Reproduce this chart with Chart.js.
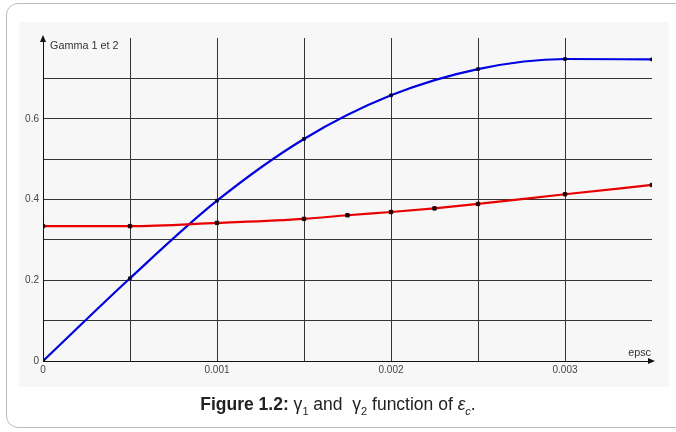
<!DOCTYPE html>
<html>
<head>
<meta charset="utf-8">
<script src="https://cdn.jsdelivr.net/npm/chart.js@4.4.1/dist/chart.umd.min.js"></script>
<style>
    body { margin: 0; background: #fff; width: 676px; height: 432px; overflow: hidden; position: relative; font-family: "Liberation Sans", Arial, sans-serif; }
    .frame { position: absolute; left: 6px; top: 3px; width: 720px; height: 423px; border: 1.5px solid #bbb; border-radius: 12px; }
    .panel { position: absolute; left: 19px; top: 22px; width: 650px; height: 365px; background: #f7f7f7; }
    #chart { position: absolute; left: 0; top: 0; }
    .caption { position: absolute; left: 0; width: 676px; top: 394px; text-align: center; font-size: 17.5px; color: #222; }
    .caption sub { font-size: 11px; }
</style>
</head>
<body>
<div class="frame"></div>
<div class="panel"></div>
<canvas id="chart" width="676" height="432"></canvas>
<div class="caption"><b>Figure 1.2:</b> γ<sub>1</sub> and &nbsp;γ<sub>2</sub> function of <i>ε<sub>c</sub></i>.</div>

<script>
// values
const gamma1X = [0, 0.0005, 0.001, 0.0015, 0.002, 0.0025, 0.003, 0.0035];
const gamma1Y = [0, 0.205, 0.397, 0.550, 0.658, 0.723, 0.748, 0.747];

const gamma2X = [0, 0.0005, 0.001, 0.0015, 0.00175, 0.002, 0.00225, 0.0025, 0.003, 0.0035];
const gamma2Y = [0.334, 0.334, 0.342, 0.352, 0.361, 0.369, 0.378, 0.389, 0.413, 0.436];

const xLabelTicks = [0, 0.001, 0.002, 0.003];
const xLabelText = ['0', '0.001', '0.002', '0.003'];
const yLabelTicks = [0, 0.2, 0.4, 0.6];
const yLabelText = ['0', '0.2', '0.4', '0.6'];

function toPoints(xs, ys) {
    return xs.map((x, i) => ({ x: x, y: ys[i] }));
}

function labelFor(value, ticks, texts, tol) {
    const i = ticks.findIndex(t => Math.abs(t - value) < tol);
    return i >= 0 ? texts[i] : '';
}

// axis arrows + axis titles
const axisDecor = {
    id: 'axisDecor',
    afterDraw(chart) {
        const ctx = chart.ctx;
        const a = chart.chartArea;
        ctx.save();
        ctx.fillStyle = '#111';
        // y axis arrow
        ctx.beginPath();
        ctx.moveTo(a.left, a.top - 3);
        ctx.lineTo(a.left - 3, a.top + 4);
        ctx.lineTo(a.left + 3, a.top + 4);
        ctx.closePath();
        ctx.fill();
        // x axis arrow
        ctx.beginPath();
        ctx.moveTo(a.right + 3, a.bottom);
        ctx.lineTo(a.right - 4, a.bottom - 3);
        ctx.lineTo(a.right - 4, a.bottom + 3);
        ctx.closePath();
        ctx.fill();

        ctx.fillStyle = '#333';
        ctx.font = '10.8px "Liberation Sans", Arial, sans-serif';
        ctx.textBaseline = 'alphabetic';
        ctx.textAlign = 'left';
        ctx.fillText('Gamma 1 et 2', a.left + 7, a.top + 11);
        ctx.textAlign = 'right';
        ctx.fillText('epsc', a.right - 1, a.bottom - 5);
        ctx.restore();
    }
};

const tickFont = { family: '"Liberation Sans", Arial, sans-serif', size: 10 };

const ctx = document.getElementById('chart').getContext('2d');
new Chart(ctx, {
    type: 'line',
    data: {
        datasets: [
            {
                label: 'Gamma 2',
                data: toPoints(gamma2X, gamma2Y),
                borderColor: '#e80000',
                borderWidth: 2.2,
                pointStyle: 'rect',
                pointRadius: 2.4,
                pointBackgroundColor: '#220000',
                pointBorderColor: '#220000',
                pointBorderWidth: 1,
                cubicInterpolationMode: 'monotone',
                order: 0
            },
            {
                label: 'Gamma 1',
                data: toPoints(gamma1X, gamma1Y),
                borderColor: '#0000e0',
                borderWidth: 2.2,
                pointStyle: 'rect',
                pointRadius: 1.9,
                pointBackgroundColor: '#000033',
                pointBorderColor: '#000033',
                pointBorderWidth: 1,
                cubicInterpolationMode: 'monotone',
                order: 1
            }
        ]
    },
    options: {
        responsive: false,
        animation: false,
        devicePixelRatio: 1,
        layout: {
            padding: { top: 38, right: 24, left: 0, bottom: 0 }
        },
        plugins: {
            legend: { display: false },
            tooltip: { enabled: false }
        },
        scales: {
            x: {
                type: 'linear',
                min: 0,
                max: 0.0035,
                afterFit(scale) { scale.height = 71; },
                ticks: {
                    stepSize: 0.0005,
                    autoSkip: false,
                    maxRotation: 0,
                    padding: 3,
                    color: '#444',
                    font: tickFont,
                    callback: v => labelFor(v, xLabelTicks, xLabelText, 1e-7)
                },
                grid: {
                    drawTicks: false,
                    lineWidth: 1,
                    color: c => (c.tick && c.tick.value > 0.0034) ? 'rgba(0,0,0,0)' : '#333'
                },
                border: { color: '#111', width: 1 }
            },
            y: {
                min: 0,
                max: 0.8,
                afterFit(scale) { scale.width = 43; },
                ticks: {
                    stepSize: 0.1,
                    autoSkip: false,
                    padding: 4,
                    color: '#444',
                    font: tickFont,
                    callback: v => labelFor(v, yLabelTicks, yLabelText, 1e-6)
                },
                grid: {
                    drawTicks: false,
                    lineWidth: 1,
                    color: c => (c.tick && c.tick.value > 0.79) ? 'rgba(0,0,0,0)' : '#333'
                },
                border: { color: '#111', width: 1 }
            }
        }
    },
    plugins: [axisDecor]
});
</script>
</body>
</html>
